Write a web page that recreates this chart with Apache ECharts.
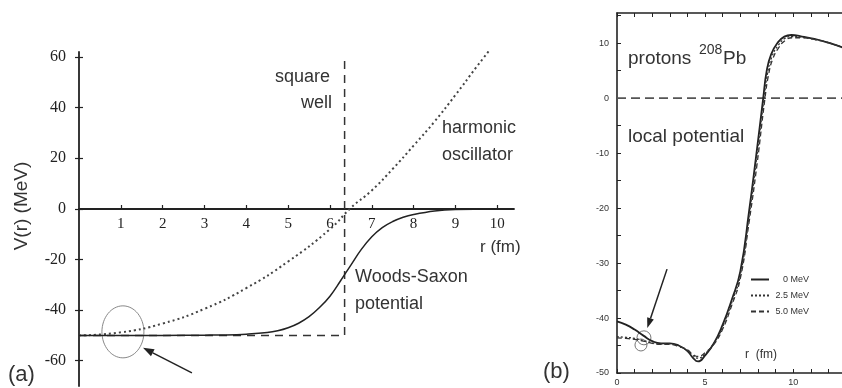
<!DOCTYPE html>
<html>
<head>
<meta charset="utf-8">
<script src="https://cdn.jsdelivr.net/npm/echarts@6/dist/echarts.min.js"></script>
<style>
  html, body { margin: 0; background: #fff; }
  #main { width: 842px; height: 388px; }
</style>
</head>
<body>
<div id="main"></div>
<script>
// ---- panel (a): model potentials, r (fm) vs V (MeV)
const squareWell = [[0, -50], [6.35, -50], [6.35, 60]]
const harmonicOsc = [[0, -50], [1, -48.8], [2, -45.3], [3, -39.5], [4, -31.3], [5, -20.8], [6, -8],
  [6.5, 0.4], [7, 7.3], [7.5, 15.8], [8, 25], [8.5, 34.5], [9, 45], [9.5, 56], [9.9, 64.5]]
const woodsSaxon = [[0, -50], [1, -50], [2, -50], [3, -49.9], [3.5, -49.8], [4, -49.5], [4.5, -48.9],
  [4.75, -48.2], [5, -47], [5.25, -45.2], [5.5, -42.6], [5.75, -39], [6, -34.5], [6.25, -28.5],
  [6.5, -22.2], [6.75, -16], [7, -11], [7.25, -7.4], [7.5, -5], [7.75, -3.3], [8, -2.2], [8.5, -0.8],
  [9, -0.2], [10, 0]]
const xTicksA = [1, 2, 3, 4, 5, 6, 7, 8, 9, 10]
const yTicksA = [-60, -40, -20, 0, 20, 40, 60]

// ---- panel (b): local potential for protons on 208Pb
const zeroLine = [[0, 0], [13, 0]]
const pot0 = [[0, -40.6], [0.5, -41.2], [1, -42.1], [1.5, -43.2], [2, -44.2], [2.5, -44.6], [3, -44.6],
  [3.5, -45], [4, -46], [4.3, -47.2], [4.6, -47.9], [5, -46.8], [5.5, -44.6], [6, -41.2], [6.5, -36.8],
  [7, -31.5], [7.5, -20.5], [7.9, -10.5], [8.3, 0], [8.5, 5], [8.75, 8], [9.1, 10], [9.5, 11.2],
  [9.9, 11.5], [10.5, 11.2], [11.2, 10.8], [12, 10.1], [13, 9.0]]
const pot25 = [[0, -43.4], [0.5, -43.5], [1, -43.7], [1.5, -44.1], [2, -44.5], [2.5, -44.7], [3, -44.7],
  [3.5, -45.1], [4, -45.9], [4.3, -46.8], [4.6, -47.3], [5, -46.5], [5.5, -44.6], [6, -41.6], [6.5, -37.3],
  [7, -32.2], [7.5, -21.5], [7.9, -11.5], [8.35, 0], [8.55, 4.6], [8.8, 7.6], [9.15, 9.6], [9.5, 10.8],
  [9.9, 11.2], [10.5, 11.1], [11.2, 10.7], [12, 10.1], [13, 9.0]]
const pot50 = [[0, -43.6], [0.5, -43.7], [1, -43.9], [1.5, -44.2], [2, -44.6], [2.5, -44.8], [3, -44.8],
  [3.5, -45.2], [4, -45.8], [4.3, -46.6], [4.6, -47.0], [5, -46.3], [5.5, -44.8], [6, -42], [6.5, -37.8],
  [7, -32.8], [7.5, -22.5], [7.95, -12], [8.4, 0], [8.6, 4.2], [8.85, 7.2], [9.2, 9.3], [9.55, 10.5],
  [9.95, 11.0], [10.5, 11.0], [11.2, 10.7], [12, 10.1], [13, 9.0]]
const energies = ['0 MeV', '2.5 MeV', '5.0 MeV']
const xLabelsB = [0, 5, 10]
const xTicksB = [0, 1, 2, 3, 4, 5, 6, 7, 8, 9, 10, 11, 12, 13]
const yLabelsB = [-50, -40, -30, -20, -10, 0, 10]
const yTicksB = [-50, -45, -40, -35, -30, -25, -20, -15, -10, -5, 0, 5, 10, 15]

// annotation anchors, in data units
const circleA = [1.05, -48.6]
const arrowA = [[2.7, -64.8], [1.53, -54.9]]
const circlesB = [[1.53, -43.6], [1.36, -44.9]]
const arrowB = [[2.84, -31.1], [1.72, -41.8]]

const SANS = "'Liberation Sans', Arial, sans-serif"
const SERIF = "'Liberation Serif', 'Times New Roman', serif"
const INK = '#222'

var myChart = echarts.init(document.getElementById('main'))

function txt (text, x, y, size, align, extra) {
  return Object.assign({
    type: 'text', x: x, y: y,
    style: { text: text, fill: '#333', font: size + 'px ' + SANS, textAlign: align || 'left', textVerticalAlign: 'middle' }
  }, extra || {})
}

// grid (a): y runs -70..62 over 334px, so V=0 sits 177px above the bottom edge
const option = {
  backgroundColor: '#fff',
  animation: false,
  grid: [
    { left: 79, top: 52, width: 435, height: 334, outerBoundsMode: 'none' },
    { left: 617, top: 13, width: 229, height: 360, outerBoundsMode: 'none' }
  ],
  xAxis: [
    {
      gridIndex: 0, type: 'value', min: 0, max: 10.4, position: 'bottom', offset: -177,
      axisLine: { onZero: false, lineStyle: { color: INK, width: 1.8 } },
      axisTick: { customValues: xTicksA, inside: true, length: 4, lineStyle: { color: INK, width: 1.2 } },
      axisLabel: { customValues: xTicksA, color: INK, fontFamily: SERIF, fontSize: 15, margin: 8 },
      splitLine: { show: false }
    },
    {
      gridIndex: 1, type: 'value', min: 0, max: 13, position: 'bottom',
      axisLine: { onZero: false, lineStyle: { color: INK, width: 1.6 } },
      axisTick: { customValues: xTicksB, inside: true, length: 4, lineStyle: { color: INK } },
      axisLabel: { customValues: xLabelsB, color: '#333', fontFamily: SANS, fontSize: 9, margin: 5 },
      splitLine: { show: false }
    },
    {
      gridIndex: 1, type: 'value', min: 0, max: 13, position: 'top',
      axisLine: { onZero: false, lineStyle: { color: INK, width: 1.6 } },
      axisTick: { customValues: xTicksB, inside: true, length: 4, lineStyle: { color: INK } },
      axisLabel: { show: false },
      splitLine: { show: false }
    }
  ],
  yAxis: [
    {
      gridIndex: 0, type: 'value', min: -70, max: 62, position: 'left',
      axisLine: { show: true, onZero: false, lineStyle: { color: INK, width: 1.8 } },
      axisTick: { show: true, customValues: yTicksA, length: 4, lineStyle: { color: INK, width: 1.2 } },
      axisLabel: { customValues: yTicksA, color: INK, fontFamily: SERIF, fontSize: 16, margin: 13 },
      splitLine: { show: false }
    },
    {
      gridIndex: 0, type: 'value', min: -70, max: 62, position: 'left',
      axisLine: { show: false },
      axisTick: { show: true, customValues: yTicksA, inside: true, length: 4, lineStyle: { color: INK, width: 1.2 } },
      axisLabel: { show: false },
      splitLine: { show: false }
    },
    {
      gridIndex: 1, type: 'value', min: -50, max: 15.5, position: 'left',
      axisLine: { show: true, onZero: false, lineStyle: { color: INK, width: 1.6 } },
      axisTick: { show: true, customValues: yTicksB, inside: true, length: 4, lineStyle: { color: INK } },
      axisLabel: { customValues: yLabelsB, color: '#333', fontFamily: SANS, fontSize: 9, margin: 8 },
      splitLine: { show: false }
    }
  ],
  legend: {
    data: energies,
    orient: 'vertical',
    left: 750, top: 275, padding: 0,
    itemWidth: 18, itemHeight: 8, itemGap: 7,
    selectedMode: false,
    itemStyle: { opacity: 0 },
    formatter: name => '{t|' + name + '}',
    textStyle: { rich: { t: { width: 35, align: 'right', fontSize: 9, fontFamily: SANS, color: '#333' } } }
  },
  series: [
    {
      name: 'square well', type: 'line', xAxisIndex: 0, yAxisIndex: 0, data: squareWell,
      symbol: 'none', lineStyle: { color: '#333', width: 1.5, type: [8, 6] }
    },
    {
      name: 'harmonic oscillator', type: 'line', xAxisIndex: 0, yAxisIndex: 0, data: harmonicOsc,
      symbol: 'none', smooth: true, lineStyle: { color: '#444', width: 2, type: [2, 3] }
    },
    {
      name: 'Woods-Saxon', type: 'line', xAxisIndex: 0, yAxisIndex: 0, data: woodsSaxon,
      symbol: 'none', smooth: 0.4, lineStyle: { color: INK, width: 1.5 }
    },
    {
      name: 'zero', type: 'line', xAxisIndex: 1, yAxisIndex: 2, data: zeroLine,
      symbol: 'none', lineStyle: { color: '#555', width: 1.8, type: [9, 5] }
    },
    {
      name: energies[0], type: 'line', xAxisIndex: 1, yAxisIndex: 2, data: pot0,
      symbol: 'none', smooth: true, lineStyle: { color: INK, width: 1.8 }
    },
    {
      name: energies[1], type: 'line', xAxisIndex: 1, yAxisIndex: 2, data: pot25,
      symbol: 'none', smooth: true, lineStyle: { color: '#333', width: 1.3, type: [2, 2] }
    },
    {
      name: energies[2], type: 'line', xAxisIndex: 1, yAxisIndex: 2, data: pot50,
      symbol: 'none', smooth: true, lineStyle: { color: '#333', width: 1.3, type: [5, 3] }
    }
  ]
}

myChart.setOption(option)

// ---- annotations placed from data coordinates
function px (grid, p) {
  return myChart.convertToPixel({ xAxisIndex: grid === 0 ? 0 : 1, yAxisIndex: grid === 0 ? 0 : 2 }, p)
}
function arrow (grid, pts, head) {
  const a = px(grid, pts[0])
  const b = px(grid, pts[1])
  const ang = Math.atan2(b[1] - a[1], b[0] - a[0])
  const l = head[0]
  const w = head[1]
  const bx = b[0] - l * Math.cos(ang)
  const by = b[1] - l * Math.sin(ang)
  return [
    { type: 'line', shape: { x1: a[0], y1: a[1], x2: bx, y2: by }, style: { stroke: INK, lineWidth: 1.5 } },
    {
      type: 'polygon',
      shape: { points: [b, [bx + w * Math.sin(ang), by - w * Math.cos(ang)], [bx - w * Math.sin(ang), by + w * Math.cos(ang)]] },
      style: { fill: INK }
    }
  ]
}

const cA = px(0, circleA)
const cB1 = px(1, circlesB[0])
const cB2 = px(1, circlesB[1])

const graphics = [
  { type: 'ellipse', shape: { cx: cA[0], cy: cA[1], rx: 21, ry: 26 }, style: { fill: 'none', stroke: '#888', lineWidth: 1 } },
  { type: 'circle', shape: { cx: cB1[0], cy: cB1[1], r: 7 }, style: { fill: 'none', stroke: '#777', lineWidth: 1 } },
  { type: 'circle', shape: { cx: cB2[0], cy: cB2[1], r: 6 }, style: { fill: 'none', stroke: '#777', lineWidth: 1 } },
  ...arrow(0, arrowA, [11, 4]),
  ...arrow(1, arrowB, [10, 3.5]),
  txt('V(r) (MeV)', 22, 206, 19, 'center', { rotation: Math.PI / 2 }),
  txt('square', 330, 77, 18, 'right'),
  txt('well', 332, 103, 18, 'right'),
  txt('harmonic', 442, 128, 18),
  txt('oscillator', 442, 155, 18),
  txt('Woods-Saxon', 355, 277, 18),
  txt('potential', 355, 304, 18),
  txt('r (fm)', 480, 247, 17),
  txt('(a)', 8, 375, 22),
  txt('protons', 628, 59, 19),
  txt('208', 699, 50, 14),
  txt('Pb', 723, 59, 19),
  txt('local potential', 628, 137, 19),
  txt('r  (fm)', 745, 355, 12),
  txt('(b)', 543, 372, 22)
]

myChart.setOption({ graphic: graphics })
</script>
</body>
</html>
